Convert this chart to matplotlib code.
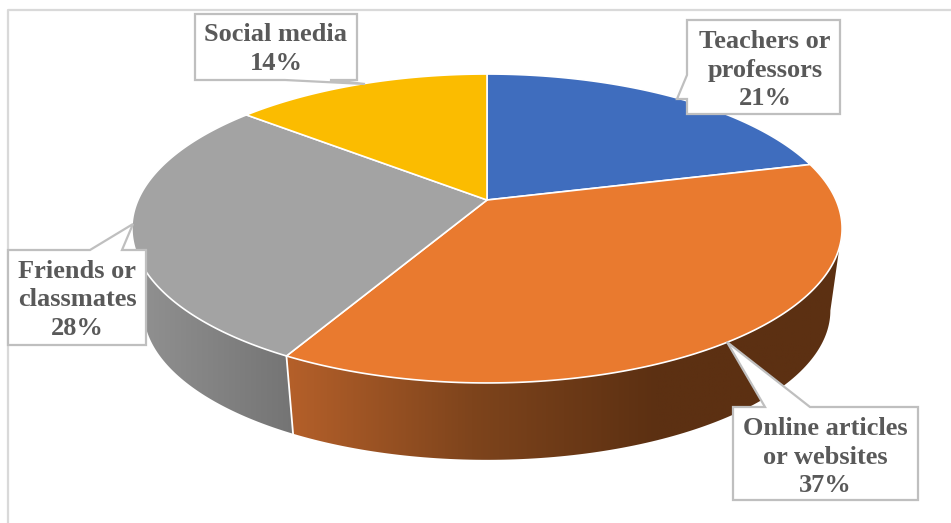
import numpy as np
import matplotlib
matplotlib.use('Agg')
import matplotlib.pyplot as plt
from matplotlib.colors import LinearSegmentedColormap
from matplotlib.patches import Polygon

# share of respondents per source, clockwise from 12 o'clock
categories = ['Teachers or\nprofessors', 'Online articles\nor websites', 'Friends or\nclassmates', 'Social media']
shares = [21, 37, 28, 14]
top_colors = ['#3F6DBE', '#E97A2F', '#A3A3A3', '#FBBC00']
wall_colors = [None, ['#B5602A', '#7E441C', '#5C3012', '#5C3012'], ['#929292', '#747474'], None]

# pie geometry in pixels
CX, CY = 487, 200
A, B, K = 349, 149.2, 0.1845
WALL_SCALE = 0.967
WALL_DROP = 82

# callout outline for each label, text centre
boxes = {
    'Teachers or\nprofessors': [(687, 20), (840, 20), (840, 114), (687, 114), (687, 99), (677, 99), (687, 75)],
    'Online articles\nor websites': [(733, 407), (765, 407), (727, 342), (810, 407), (918, 407), (918, 500), (733, 500)],
    'Friends or\nclassmates': [(8, 250), (90, 250), (133, 224), (122, 250), (146, 250), (146, 345), (8, 345)],
    'Social media': [(195, 14), (357, 14), (357, 80), (330, 80), (365, 84), (285, 80), (195, 80)],
}
text_pos = {
    'Teachers or\nprofessors': (765, 70),
    'Online articles\nor websites': (825, 457),
    'Friends or\nclassmates': (77, 300),
    'Social media': (276, 49),
}


def project(deg):
    t = np.radians(deg)
    u, v = np.sin(t), np.cos(t)
    d = 1 + K * v
    return CX + A * u / d, CY - B * v / d


def project_low(deg):
    x, y = project(deg)
    return CX + WALL_SCALE * (x - CX), 228 + WALL_DROP + WALL_SCALE * (y - 228)


fig = plt.figure(figsize=(9.51, 5.23), dpi=100)
ax = fig.add_axes([0, 0, 1, 1])
ax.axis('off')

# outer frame, open on the right and at the bottom
ax.plot([8, 8, 951], [523, 10, 10], color='#D9D9D9', lw=1.6, zorder=1)

edges = np.cumsum([0] + shares) * 3.6
side = np.degrees(np.arccos(-K))  # where the rim turns away from the viewer

# side walls
for i, cols in enumerate(wall_colors):
    if cols is None:
        continue
    a0 = max(edges[i], side)
    a1 = min(edges[i + 1], 360 - side)
    th = np.linspace(a0, a1, 120)
    xt, yt = project(th)
    xb, yb = project_low(th)
    poly = Polygon(np.r_[np.c_[xt, yt], np.c_[xb, yb][::-1]], closed=True, fc='none', ec='none')
    ax.add_patch(poly)
    cmap = LinearSegmentedColormap.from_list('wall', cols)
    left, right = min(xt.min(), xb.min()), max(xt.max(), xb.max())
    im = ax.imshow(np.linspace(0, 1, 256)[None, :], cmap=cmap, aspect='auto',
                   extent=[left, right, 470, 220], zorder=2)
    im.set_clip_path(poly)
    # seam between the walls
    if i == 1:
        ax.plot([xt[-1], xb[-1]], [yt[-1], yb[-1]], color='white', lw=1.3, zorder=3)

# top face slices
for i, c in enumerate(top_colors):
    th = np.linspace(edges[i], edges[i + 1], 150)
    xt, yt = project(th)
    pts = np.r_[[[CX, CY]], np.c_[xt, yt]]
    ax.add_patch(Polygon(pts, closed=True, fc=c, ec='white', lw=1.2, joinstyle='round', zorder=4))

# labels
for cat, share in zip(categories, shares):
    ax.add_patch(Polygon(boxes[cat], closed=True, fc='white', ec='#BFBFBF', lw=1.6, zorder=5))
    ax.text(*text_pos[cat], f'{cat}\n{share}%', ha='center', va='center', color='#595959',
            family='Liberation Serif', weight='bold', fontsize=19, linespacing=1.31, zorder=6)

ax.set_xlim(0, 951)
ax.set_ylim(523, 0)
fig.savefig('out.png', dpi=100)
